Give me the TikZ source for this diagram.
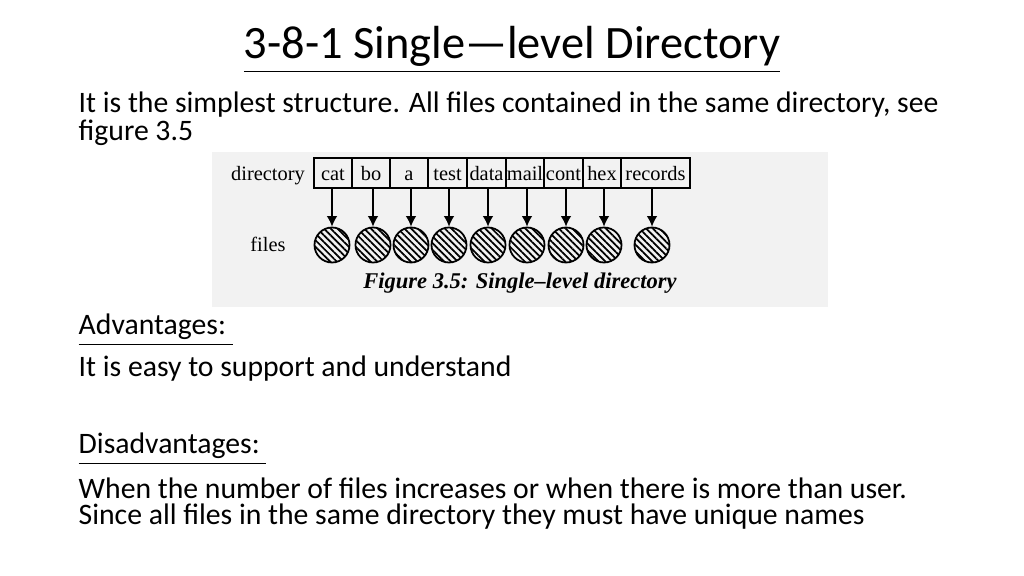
\documentclass[tikz,border=0pt]{standalone}
\usepackage{fontspec}
\setmainfont{Carlito}
\newfontfamily\figfont{Liberation Serif}
\usetikzlibrary{patterns.meta,arrows.meta}
\definecolor{figbg}{rgb}{0.95,0.95,0.95}

\begin{document}
\begin{tikzpicture}[x=0.01cm,y=-0.01cm,
  bodytext/.style={anchor=west,inner sep=0pt,font=\fontsize{8.45pt}{10pt}\selectfont},
  figtext/.style={font=\figfont\fontsize{5.8pt}{7pt}\selectfont,text height=1.2ex,text depth=0.3ex},
  filedisk/.style={circle,draw,line width=0.5pt,minimum size=0.35cm,inner sep=0pt,
    pattern={Lines[angle=-45,distance=1.35pt,line width=0.5pt]}},
  fileptr/.style={-{Latex[length=3pt,width=3pt]},line width=0.35pt}]
\useasboundingbox (0,0) rectangle (1024,576);
% title
\node (title) at (512,50) {\fontsize{13.2pt}{15pt}\selectfont\underline{3-8-1 Single—level Directory}};
\node[bodytext] (intro1) at (78,105) {It is the simplest structure. All files contained in the same directory, see};
\node[bodytext] (intro2) at (78,133) {figure 3.5};
% figure
\fill[figbg] (212,152) rectangle (828,307);
\node[figtext] (dirlabel) at (268,173) {directory};
\node[figtext] (fileslabel) at (268,244) {files};
\foreach \name/\xa/\xb/\xc in {cat/314/352/332,bo/352/390/373,a/390/428/411,test/428/467/449,
    data/467/506/488,mail/506/544/527,cont/544/583/566,hex/583/621/604,records/621/690/652}{
  \draw[line width=0.35pt] (\xa,158) rectangle (\xb,188);
  \node[figtext,inner sep=0pt] (c-\name) at ({(\xa+\xb)/2},173) {\name};
  \node[filedisk] (f-\name) at (\xc,245) {};
  \draw[fileptr] (\xc,188) -- (f-\name.north);
}
\node[font=\figfont\bfseries\itshape\fontsize{6.4pt}{7pt}\selectfont] (caption) at (520,283) {Figure 3.5: Single–level directory};
% advantages
\node[bodytext] (advhead) at (78,330) {\underline{Advantages:\ }};
\node[bodytext] (adv1) at (78,369) {It is easy to support and understand};
\node[bodytext] (dishead) at (78,449) {\underline{Disadvantages:\ }};
\node[bodytext] (dis1) at (78,488) {When the number of files increases or when there is more than user.};
\node[bodytext] (dis2) at (78,517) {Since all files in the same directory they must have unique names};
\end{tikzpicture}
\end{document}
